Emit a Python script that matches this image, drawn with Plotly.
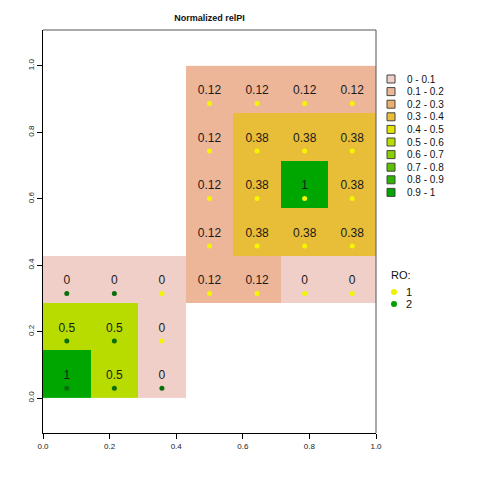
import numpy as np
import plotly.graph_objects as go

# ---- data ----
n = 7
centers = [(i + 0.5) / n for i in range(n)]
# rows from bottom (y index 0) to top; None = empty cell
values = [
    [1, 0.5, 0, None, None, None, None],
    [0.5, 0.5, 0, None, None, None, None],
    [0, 0, 0, 0.12, 0.12, 0, 0],
    [None, None, None, 0.12, 0.38, 0.38, 0.38],
    [None, None, None, 0.12, 0.38, 1, 0.38],
    [None, None, None, 0.12, 0.38, 0.38, 0.38],
    [None, None, None, 0.12, 0.12, 0.12, 0.12],
]
ro = [
    [2, 2, 2, None, None, None, None],
    [2, 2, 1, None, None, None, None],
    [2, 2, 1, 1, 1, 1, 1],
    [None, None, None, 1, 1, 1, 1],
    [None, None, None, 1, 1, 1, 1],
    [None, None, None, 1, 1, 1, 1],
    [None, None, None, 1, 1, 1, 1],
]
bin_labels = ["0 - 0.1", "0.1 - 0.2", "0.2 - 0.3", "0.3 - 0.4", "0.4 - 0.5",
              "0.5 - 0.6", "0.6 - 0.7", "0.7 - 0.8", "0.8 - 0.9", "0.9 - 1"]
bin_colors = ["#F0CFC8", "#EDB699", "#EBAF70", "#E8BE38", "#E3E300",
              "#B8DC00", "#8AD000", "#5CC200", "#2EB400", "#00A600"]
ro_labels = ["1", "2"]
ro_colors_plot = {1: "#F5F500", 2: "#0A6E0A"}
ro_colors_legend = ["#F0F000", "#00A000"]
xticks = [0, 0.2, 0.4, 0.6, 0.8, 1.0]

# ---- geometry helpers (pixel -> paper) ----
L, R, T, B = 43, 104, 30, 47
W = H = 480
PW, PH = W - L - R, H - T - B
def px(x):
    return (x - L) / PW
def py(y):
    return (H - B - y) / PH

# bin index for each cell
z = []
for row in values:
    zr = []
    for v in row:
        if v is None:
            zr.append(None)
        else:
            zr.append(min(int(np.floor(v * 10 + 1e-9)), 9))
    z.append(zr)

cs = []
for k, c in enumerate(bin_colors):
    cs.append([k / 10, c])
    cs.append([(k + 1) / 10, c])

fig = go.Figure()
fig.add_trace(go.Heatmap(
    x=centers, y=centers, z=z, colorscale=cs, zmin=-0.5, zmax=9.5,
    showscale=False, hoverinfo="skip"))

# labels
text_off = 0.005
tx, ty, tt = [], [], []
for r in range(n):
    for c in range(n):
        v = values[r][c]
        if v is not None:
            tx.append(centers[c]); ty.append(centers[r] - text_off); tt.append(f"{v:g}")
fig.add_trace(go.Scatter(x=tx, y=ty, text=tt, mode="text",
                         textfont=dict(family="Liberation Sans, Arial", size=12, color="#1a1a1a"),
                         showlegend=False, hoverinfo="skip"))

# RO dots
dot_off = 0.042
for g in (1, 2):
    dx, dy = [], []
    for r in range(n):
        for c in range(n):
            if ro[r][c] == g:
                dx.append(centers[c]); dy.append(centers[r] - dot_off)
    fig.add_trace(go.Scatter(x=dx, y=dy, mode="markers",
                             marker=dict(color=ro_colors_plot[g], size=5, line=dict(width=0)),
                             showlegend=False, hoverinfo="skip"))

shapes = []
annotations = []
# top and right frame lines (gray)
shapes.append(dict(type="line", xref="paper", yref="paper", x0=0, x1=1, y0=1, y1=1,
                   line=dict(color="#555555", width=1)))
shapes.append(dict(type="line", xref="paper", yref="paper", x0=1, x1=1, y0=0, y1=1,
                   line=dict(color="#555555", width=1)))

font = "Liberation Sans, Arial"
# value legend
for k, (lab, col) in enumerate(zip(bin_labels, bin_colors)):
    yc = 79 + 12.6 * k
    shapes.append(dict(type="rect", xref="paper", yref="paper",
                       x0=px(387), x1=px(395), y0=py(yc - 4), y1=py(yc + 4),
                       fillcolor=col, line=dict(color="#444444", width=1)))
    annotations.append(dict(x=px(405), y=py(yc), xref="paper", yref="paper",
                            text=lab, showarrow=False, xanchor="left", yanchor="middle",
                            font=dict(family=font, size=10, color="#111")))

# RO legend
annotations.append(dict(x=px(389), y=py(275), xref="paper", yref="paper",
                        text="RO:", showarrow=False, xanchor="left", yanchor="middle",
                        font=dict(family=font, size=11, color="#111")))
for k, (lab, col) in enumerate(zip(ro_labels, ro_colors_legend)):
    yc = 292 + 12 * k
    shapes.append(dict(type="circle", xref="paper", yref="paper",
                       x0=px(391), x1=px(397), y0=py(yc - 3), y1=py(yc + 3),
                       fillcolor=col, line=dict(color=col, width=0)))
    annotations.append(dict(x=px(404), y=py(yc), xref="paper", yref="paper",
                            text=lab, showarrow=False, xanchor="left", yanchor="middle",
                            font=dict(family=font, size=11, color="#111")))

fig.update_layout(
    width=W, height=H,
    margin=dict(l=L, r=R, t=T, b=B, pad=0),
    paper_bgcolor="white", plot_bgcolor="white",
    title=dict(text="<b>Normalized relPI</b>", x=px(209.5), xref="paper", xanchor="center",
               y=1 - 18 / H, yref="container", yanchor="middle",
               font=dict(family=font, size=9, color="#111")),
    shapes=shapes, annotations=annotations,
    showlegend=False,
)
fig.update_xaxes(range=[0, 1], tickvals=xticks, ticktext=[f"{t:.1f}" for t in xticks],
                 showgrid=False, zeroline=False, showline=True, linecolor="black", linewidth=1,
                 ticks="outside", ticklen=5, tickcolor="black",
                 tickfont=dict(family=font, size=8, color="#222"))
fig.update_yaxes(range=[-0.105, 1.108], tickvals=xticks, ticktext=[f"{t:.1f}" for t in xticks],
                 showgrid=False, zeroline=False, showline=True, linecolor="black", linewidth=1,
                 ticks="outside", ticklen=5, tickcolor="black", tickangle=-90,
                 tickfont=dict(family=font, size=8, color="#222"))

fig.write_html("out.html", config={"displayModeBar": False, "staticPlot": True},
               post_script="document.body.style.margin='0';document.body.style.overflow='hidden';")
